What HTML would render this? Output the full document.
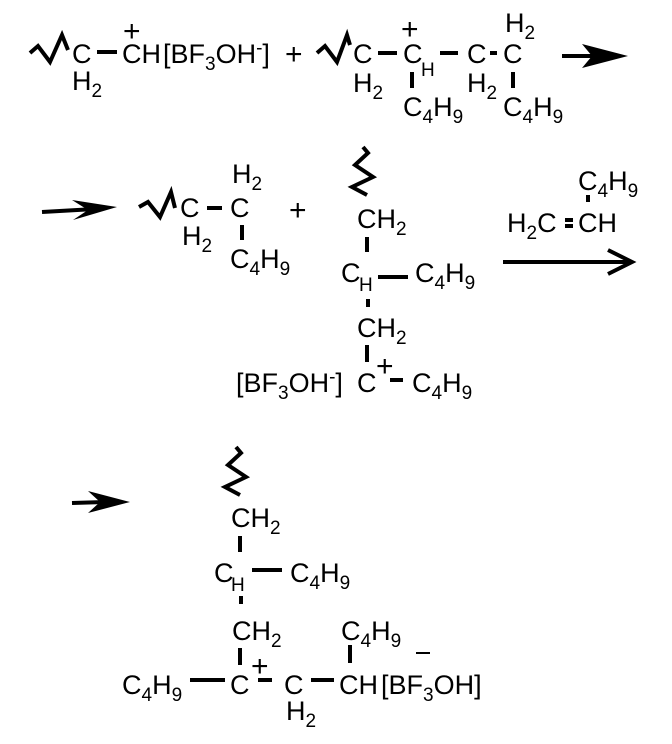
<!DOCTYPE html>
<html><head><meta charset="utf-8"><style>
html,body{margin:0;padding:0;background:#fff;}
svg{display:block}
text{font-family:"Liberation Sans",sans-serif;font-size:27px;fill:#000}
.s{font-size:19px}
.p{font-size:30px}
</style></head><body>
<svg width="672" height="744" viewBox="0 0 672 744" xmlns="http://www.w3.org/2000/svg">
<g stroke="#000" stroke-width="4" fill="none" stroke-linecap="butt" stroke-linejoin="miter">
<polyline points="30,53 38,46 50,62 62,35 68,50"/>
<line x1="97" y1="52" x2="117" y2="52"/>
<polyline points="317,53 325,46 337,62 347,35 350,45"/>
<line x1="378" y1="53" x2="397" y2="53"/>
<line x1="440" y1="53" x2="458" y2="53"/>
<line x1="490" y1="53" x2="497" y2="53"/>
<line x1="412" y1="72" x2="412" y2="88"/>
<line x1="513" y1="72" x2="513" y2="88"/>
<line x1="562" y1="56" x2="600" y2="56"/>
<line x1="42" y1="212" x2="95" y2="209"/>
<polyline points="139,207 148,202 160,217 171,192 175,208"/>
<line x1="207" y1="208" x2="222" y2="208"/>
<line x1="242" y1="225" x2="242" y2="240"/>
<polyline points="363,147 368,153 355,165 373,177 352,187 367,195"/>
<line x1="367" y1="237" x2="367" y2="252"/>
<line x1="378" y1="277" x2="408" y2="277"/>
<line x1="368" y1="299" x2="368" y2="307"/>
<line x1="367" y1="345" x2="367" y2="362"/>
<line x1="390" y1="380" x2="403" y2="380"/>
<line x1="588" y1="195" x2="588" y2="202"/>
<line x1="565" y1="220" x2="573" y2="220"/>
<line x1="565" y1="226" x2="573" y2="226"/>
<line x1="503" y1="262" x2="630" y2="262"/>
<polyline points="608,250 632,262 608,274" stroke-width="4"/>
<line x1="72" y1="503" x2="105" y2="502"/>
<polyline points="236,447 241,453 228,465 246,477 225,487 240,495"/>
<line x1="240" y1="536" x2="240" y2="552"/>
<line x1="252" y1="570" x2="282" y2="570"/>
<line x1="241" y1="596" x2="241" y2="604"/>
<line x1="240" y1="648" x2="240" y2="665"/>
<line x1="190" y1="680" x2="225" y2="680"/>
<line x1="258" y1="680" x2="272" y2="680"/>
<line x1="311" y1="680" x2="334" y2="680"/>
<line x1="350" y1="645" x2="350" y2="663"/>
<line x1="416" y1="653" x2="430" y2="653" stroke-width="2"/>
</g>
<g fill="#000">
<polygon points="628,56 582,44 592,56 582,68"/>
<polygon points="117,207 72,200 88,210 73,220"/>
<polygon points="130,502 88,491 100,502 88,513"/>
</g>
<text x="72" y="63">C</text>
<text x="72" y="90">H<tspan class="s" dy="7">2</tspan></text>
<text x="123" y="41" class="p">+</text>
<text x="122" y="63">CH</text>
<text x="163" y="63">[BF<tspan class="s" dy="7">3</tspan><tspan dy="-7">OH</tspan><tspan class="s" dy="-9">-</tspan><tspan dy="9">]</tspan></text>
<text x="285" y="64" class="p">+</text>
<text x="353" y="63">C</text>
<text x="353" y="92">H<tspan class="s" dy="7">2</tspan></text>
<text x="401" y="39" class="p">+</text>
<text x="403" y="63">C</text>
<text x="421" y="76" class="s">H</text>
<text x="403" y="116">C<tspan class="s" dy="7">4</tspan><tspan dy="-7">H</tspan><tspan class="s" dy="7">9</tspan></text>
<text x="467" y="63">C</text>
<text x="467" y="92">H<tspan class="s" dy="7">2</tspan></text>
<text x="503" y="63">C</text>
<text x="505" y="32">H<tspan class="s" dy="7">2</tspan></text>
<text x="503" y="116">C<tspan class="s" dy="7">4</tspan><tspan dy="-7">H</tspan><tspan class="s" dy="7">9</tspan></text>
<text x="180" y="217">C</text>
<text x="182" y="245">H<tspan class="s" dy="7">2</tspan></text>
<text x="230" y="217">C</text>
<text x="232" y="183">H<tspan class="s" dy="7">2</tspan></text>
<text x="230" y="268">C<tspan class="s" dy="7">4</tspan><tspan dy="-7">H</tspan><tspan class="s" dy="7">9</tspan></text>
<text x="289" y="220" class="p">+</text>
<text x="357" y="228">CH<tspan class="s" dy="7">2</tspan></text>
<text x="341" y="282">C</text>
<text x="359" y="291" class="s">H</text>
<text x="415" y="282">C<tspan class="s" dy="7">4</tspan><tspan dy="-7">H</tspan><tspan class="s" dy="7">9</tspan></text>
<text x="357" y="337">CH<tspan class="s" dy="7">2</tspan></text>
<text x="357" y="392">C</text>
<text x="376" y="376" class="p">+</text>
<text x="412" y="392">C<tspan class="s" dy="7">4</tspan><tspan dy="-7">H</tspan><tspan class="s" dy="7">9</tspan></text>
<text x="236" y="392">[BF<tspan class="s" dy="7">3</tspan><tspan dy="-7">OH</tspan><tspan class="s" dy="-9">-</tspan><tspan dy="9">]</tspan></text>
<text x="578" y="190">C<tspan class="s" dy="7">4</tspan><tspan dy="-7">H</tspan><tspan class="s" dy="7">9</tspan></text>
<text x="507" y="232">H<tspan class="s" dy="7">2</tspan><tspan dy="-7">C</tspan></text>
<text x="578" y="232">CH</text>
<text x="231" y="527">CH<tspan class="s" dy="7">2</tspan></text>
<text x="214" y="582">C</text>
<text x="231" y="591" class="s">H</text>
<text x="290" y="582">C<tspan class="s" dy="7">4</tspan><tspan dy="-7">H</tspan><tspan class="s" dy="7">9</tspan></text>
<text x="232" y="640">CH<tspan class="s" dy="7">2</tspan></text>
<text x="122" y="694">C<tspan class="s" dy="7">4</tspan><tspan dy="-7">H</tspan><tspan class="s" dy="7">9</tspan></text>
<text x="230" y="694">C</text>
<text x="251" y="676" class="p">+</text>
<text x="284" y="694">C</text>
<text x="286" y="720">H<tspan class="s" dy="7">2</tspan></text>
<text x="339" y="694">CH</text>
<text x="341" y="640">C<tspan class="s" dy="7">4</tspan><tspan dy="-7">H</tspan><tspan class="s" dy="7">9</tspan></text>
<text x="381" y="694">[BF<tspan class="s" dy="7">3</tspan><tspan dy="-7">OH]</tspan></text>
</svg>
</body></html>
